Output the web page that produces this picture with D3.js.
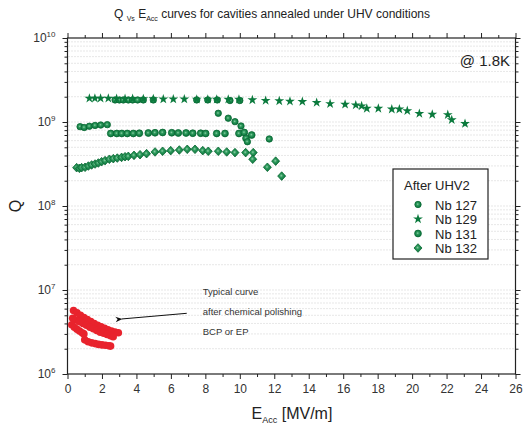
<!DOCTYPE html>
<html><head><meta charset="utf-8">
<script src="https://cdn.jsdelivr.net/npm/d3@7"></script>
<style>
html,body{margin:0;padding:0;background:#fff;}
svg{display:block;font-family:"Liberation Sans",Arial,sans-serif;}
</style></head>
<body>
<svg id="chart" width="528" height="431"></svg>
<script>
// ---------------- data ----------------
const xTicksMajor = [0,2,4,6,8,10,12,14,16,18,20,22,24,26];
const xTicksMinor = [1,3,5,7,9,11,13,15,17,19,21,23,25];
const yTickExp = [6,7,8,9,10];

const nb127E = [0.73,0.97,1.27,1.60,1.93,2.31, 2.76,3.01,3.24,3.53,3.78,4.07,4.40,4.98,7.50,8.14,8.69,9.43,10.0, 8.75,9.33,9.72,10.07,10.44,11.71];
const nb127Q = [8.8e8,8.6e8,8.9e8,9.1e8,9.2e8,9.3e8, 1.83e9,1.83e9,1.83e9,1.83e9,1.83e9,1.83e9,1.83e9,1.83e9,1.83e9,1.83e9,1.83e9,1.80e9,1.80e9, 1.27e9,1.11e9,1.01e9,8.96e8,5.82e8,6.28e8];

const nb129E = [1.27,1.59,1.92,2.37,2.85,3.34,3.78,4.40,4.98,5.56,6.14,6.78,7.50,8.14,8.66,9.33,9.95,10.73,11.50,12.29,12.91,13.63,14.46,15.24,16.11,16.73,17.07,17.37,18.04,18.82,19.26,19.72,20.42,21.17,22.07,22.30,23.07];
const nb129Q = [1.91e9,1.91e9,1.91e9,1.91e9,1.90e9,1.89e9,1.89e9,1.88e9,1.88e9,1.87e9,1.87e9,1.87e9,1.86e9,1.86e9,1.86e9,1.86e9,1.86e9,1.83e9,1.80e9,1.78e9,1.76e9,1.75e9,1.70e9,1.65e9,1.62e9,1.59e9,1.55e9,1.45e9,1.45e9,1.42e9,1.42e9,1.36e9,1.26e9,1.23e9,1.22e9,1.06e9,0.955e9];

const nb131E = [2.51,2.86,3.15,3.47,3.82,4.17,4.69,5.08,5.52,6.05,6.43,6.88,7.27,7.73,8.02,8.66,9.14,9.95,10.26,10.36,10.69];
const nb131Q = [7.3e8,7.3e8,7.3e8,7.3e8,7.3e8,7.35e8,7.4e8,7.45e8,7.5e8,7.45e8,7.4e8,7.4e8,7.35e8,7.35e8,7.3e8,7.3e8,7.3e8,7.3e8,7.5e8,6.4e8,7.0e8];

const nb132E = [0.53,0.69,0.82,1.02,1.21,1.40,1.60,1.79,1.98,2.18,2.43,2.66,2.89,3.14,3.34,3.53,3.86,4.21,4.59,5.08,5.52,5.99,6.49,6.95,7.40,7.85,8.17,8.75,9.24,9.72,10.34,10.78,10.75,11.60,12.08,12.43];
const nb132Q = [2.86e8,2.81e8,2.86e8,2.89e8,2.99e8,3.08e8,3.16e8,3.25e8,3.37e8,3.47e8,3.60e8,3.66e8,3.72e8,3.79e8,3.86e8,3.90e8,4.01e8,4.08e8,4.20e8,4.40e8,4.48e8,4.56e8,4.64e8,4.73e8,4.73e8,4.56e8,4.48e8,4.48e8,4.40e8,4.32e8,4.32e8,4.32e8,3.60e8,2.89e8,3.42e8,2.27e8];

// typical curves after chemical polishing (red)
const redAE = [0.35,0.55,0.75,0.95,1.15,1.35,1.55,1.75,1.95,2.15,2.35,2.55,2.75,2.95];
const redAQ = [5.7e6,5.35e6,5.0e6,4.7e6,4.45e6,4.2e6,4.0e6,3.8e6,3.65e6,3.5e6,3.35e6,3.25e6,3.15e6,3.1e6];
const redBE = [0.3,0.5,0.7,0.9,1.1,1.3,1.5,1.7,1.9,2.1,2.3,2.5,2.65];
const redBQ = [4.6e6,4.4e6,4.2e6,4.0e6,3.8e6,3.6e6,3.45e6,3.3e6,3.15e6,3.05e6,2.95e6,2.85e6,2.78e6];
const redCE = [0.25,0.4,0.55,0.7,0.85,0.95];
const redCQ = [3.85e6,3.6e6,3.4e6,3.25e6,3.1e6,3.0e6];
const redDE = [1.0,1.2,1.4,1.6,1.8,2.0,2.2,2.4,2.5];
const redDQ = [2.55e6,2.42e6,2.35e6,2.3e6,2.25e6,2.22e6,2.2e6,2.17e6,2.15e6];

const legendTitle = "After UHV2";
const legendNames = ["Nb 127","Nb 129","Nb 131","Nb 132"];
const annotLines = ["Typical curve","after chemical polishing","BCP or EP"];

// ---------------- drawing ----------------
const svg = d3.select("#chart");
const L = 67.5, R = 515.5, T = 38, B = 374;
const x = d3.scaleLinear().domain([0,26]).range([L,R]);
const y = d3.scaleLog().domain([1e6,1e10]).range([B,T]);

const defs = svg.append("defs");
const g1 = defs.append("radialGradient").attr("id","ball").attr("cx","45%").attr("cy","45%").attr("r","55%");
g1.append("stop").attr("offset","0%").attr("stop-color","#8fd0a9");
g1.append("stop").attr("offset","35%").attr("stop-color","#2e9a5c");
g1.append("stop").attr("offset","100%").attr("stop-color","#06703a");

// gridlines (dotted, at all log minor positions)
const gridVals = [];
for (let e = 6; e < 10; e++) for (let m = 1; m <= 9; m++) gridVals.push(m * Math.pow(10, e));
gridVals.push(1e10);
svg.append("g").selectAll("line").data(gridVals.filter(v => v > 1e6 && v < 1e10)).join("line")
  .attr("x1", L + 1).attr("x2", R - 1)
  .attr("y1", d => y(d)).attr("y2", d => y(d))
  .attr("stroke", "#cfcfcf").attr("stroke-width", 1).attr("stroke-dasharray", "1,2");

// axes
const axisColor = "#222";
function styleAxis(g){
  g.select(".domain").remove();
  g.selectAll("line").attr("stroke", axisColor);
  g.selectAll("text").attr("fill", "#333").style("font-size","12px").style("font-family","'Liberation Sans',Arial,sans-serif");
}
// bottom
svg.append("g").attr("transform",`translate(0,${B})`)
  .call(d3.axisBottom(x).tickValues(xTicksMajor).tickSize(5).tickPadding(5).tickFormat(d3.format("d")))
  .call(styleAxis);
svg.append("g").attr("transform",`translate(0,${B})`)
  .call(d3.axisBottom(x).tickValues(xTicksMinor).tickSize(3).tickFormat(""))
  .call(styleAxis);
// top
svg.append("g").attr("transform",`translate(0,${T})`)
  .call(d3.axisTop(x).tickValues(xTicksMajor).tickSize(5).tickFormat(""))
  .call(styleAxis);
svg.append("g").attr("transform",`translate(0,${T})`)
  .call(d3.axisTop(x).tickValues(xTicksMinor).tickSize(3).tickFormat(""))
  .call(styleAxis);
// left
const yMajor = yTickExp.map(e => Math.pow(10, e));
const yMinor = gridVals.filter(v => !yMajor.includes(v));
svg.append("g").attr("transform",`translate(${L},0)`)
  .call(d3.axisLeft(y).tickValues(yMajor).tickSize(5).tickFormat(""))
  .call(styleAxis);
svg.append("g").attr("transform",`translate(${L},0)`)
  .call(d3.axisLeft(y).tickValues(yMinor).tickSize(3).tickFormat(""))
  .call(styleAxis);
// right
svg.append("g").attr("transform",`translate(${R},0)`)
  .call(d3.axisRight(y).tickValues(yMajor).tickSize(5).tickFormat(""))
  .call(styleAxis);
svg.append("g").attr("transform",`translate(${R},0)`)
  .call(d3.axisRight(y).tickValues(yMinor).tickSize(3).tickFormat(""))
  .call(styleAxis);
// frame
svg.append("rect").attr("x",L).attr("y",T).attr("width",R-L).attr("height",B-T)
  .attr("fill","none").attr("stroke",axisColor).attr("stroke-width",1.2);

// y tick labels with superscripts
const yl = svg.append("g").selectAll("text").data(yTickExp).join("text")
  .attr("x", L - 12).attr("y", d => y(Math.pow(10,d)) + 4)
  .attr("text-anchor","end").attr("fill","#333").style("font-size","12px");
yl.append("tspan").text("10");
yl.append("tspan").attr("dy",-5).style("font-size","8px").text(d => d);

// axis titles
const xt = svg.append("text").attr("x", 292).attr("y", 419).attr("text-anchor","middle")
  .attr("fill","#222").style("font-size","16px");
xt.append("tspan").text("E");
xt.append("tspan").attr("dy",4).style("font-size","9px").text("Acc");
xt.append("tspan").attr("dy",-4).text(" [MV/m]");
svg.append("text").attr("transform",`translate(21,${(T+B)/2}) rotate(-90)`).attr("text-anchor","middle")
  .attr("fill","#222").style("font-size","16px").text("Q");

// title
const tt = svg.append("text").attr("x", 272).attr("y", 18).attr("text-anchor","middle")
  .attr("fill","#222").style("font-size","12px");
tt.append("tspan").text("Q ");
tt.append("tspan").attr("dy",3).style("font-size","7px").text("Vs");
tt.append("tspan").attr("dy",-3).text(" E");
tt.append("tspan").attr("dy",3).style("font-size","7px").text("Acc");
tt.append("tspan").attr("dy",-3).text(" curves for cavities annealed under UHV conditions");

svg.append("text").attr("x", 510).attr("y", 66).attr("text-anchor","end")
  .attr("fill","#222").style("font-size","15px").text("@ 1.8K");

// symbols
const green = "#0b7a3d";
function diamondPath(){ return "M0,-4.3L4,0L0,4.3L-4,0Z"; }
function drawBalls(g, E, Q, r){
  g.selectAll(null).data(d3.zip(E,Q)).join("circle")
    .attr("cx", d => x(d[0])).attr("cy", d => y(d[1])).attr("r", r)
    .attr("fill","url(#ball)").attr("stroke","#0a6a34").attr("stroke-width",0.8);
}
function drawStars(g, E, Q){
  g.selectAll(null).data(d3.zip(E,Q)).join("path")
    .attr("transform", d => `translate(${x(d[0])},${y(d[1])})`)
    .attr("d", d3.symbol(d3.symbolStar, 30)()).attr("fill", green);
}
function drawDiamonds(g, E, Q){
  g.selectAll(null).data(d3.zip(E,Q)).join("path")
    .attr("transform", d => `translate(${x(d[0])},${y(d[1])})`)
    .attr("d", diamondPath()).attr("fill","url(#ball)").attr("stroke","#0a6a34").attr("stroke-width",0.8);
}
const plot = svg.append("g");
drawDiamonds(plot.append("g"), nb132E, nb132Q);
drawBalls(plot.append("g"), nb131E, nb131Q, 3.4);
drawBalls(plot.append("g"), nb127E, nb127Q, 3.2);
drawStars(plot.append("g"), nb129E, nb129Q);

// red typical curves
const red = plot.append("g");
[[redAE,redAQ],[redBE,redBQ],[redCE,redCQ],[redDE,redDQ]].forEach(([E,Q]) => {
  red.append("g").selectAll("circle").data(d3.zip(E,Q)).join("circle")
    .attr("cx", d => x(d[0])).attr("cy", d => y(d[1])).attr("r", 3.8).attr("fill","#e8232d");
});

// annotation
const ann = svg.append("g").attr("fill","#333").style("font-size","9.5px");
annotLines.forEach((t,i) => ann.append("text").attr("x", x(7.85)).attr("y", 295 + i*20).text(t));
defs.append("marker").attr("id","arr").attr("viewBox","0 0 10 10").attr("refX",1).attr("refY",5)
  .attr("markerWidth",9).attr("markerHeight",7).attr("orient","auto-start-reverse")
  .append("path").attr("d","M0,5L10,1L7,5L10,9Z").attr("fill","#111");
svg.append("line").attr("x1", x(6.92)).attr("y1", y(5.28e6)).attr("x2", x(3.15)).attr("y2", y(4.52e6))
  .attr("stroke","#111").attr("stroke-width",1).attr("marker-end","url(#arr)");

// legend
const lg = svg.append("g").attr("transform","translate(393,169)");
lg.append("rect").attr("width",95).attr("height",90).attr("fill","#fff").attr("stroke","#222").attr("stroke-width",1.2);
lg.append("text").attr("x",11).attr("y",21).attr("fill","#222").style("font-size","13px").text(legendTitle);
legendNames.forEach((n,i) => {
  const yy = 35.5 + i*14.5;
  lg.append("text").attr("x",42).attr("y",yy+5).attr("fill","#222").style("font-size","13px").text(n);
  const s = lg.append("g").attr("transform",`translate(25,${yy})`);
  if (i === 1) s.append("path").attr("d", d3.symbol(d3.symbolStar, 30)()).attr("fill", green);
  else if (i === 3) s.append("path").attr("d", diamondPath()).attr("fill","url(#ball)").attr("stroke","#0a6a34").attr("stroke-width",0.8);
  else s.append("circle").attr("r", i===0?3.2:3.4).attr("fill","url(#ball)").attr("stroke","#0a6a34").attr("stroke-width",0.8);
});
</script>
</body></html>
